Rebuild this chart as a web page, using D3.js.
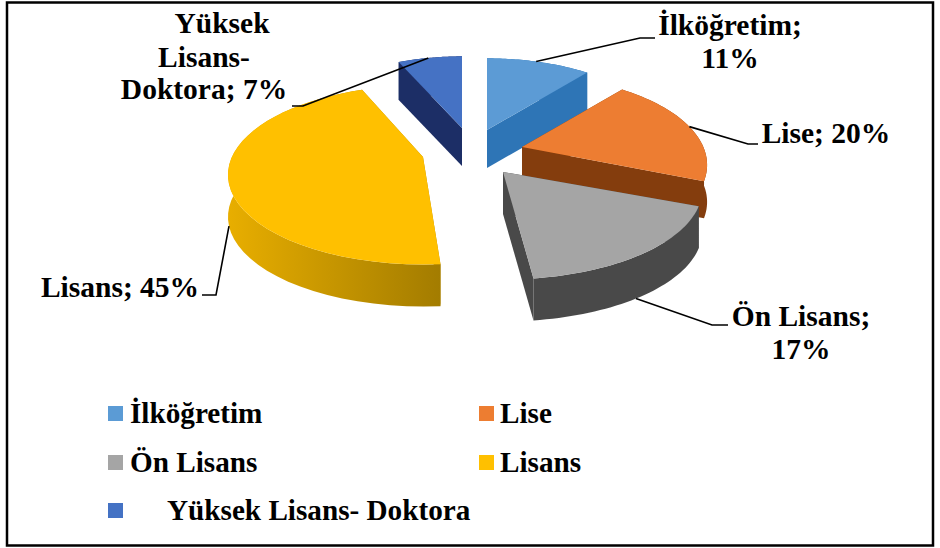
<!DOCTYPE html>
<meta charset="utf-8">
<style>
html, body { margin: 0; background: #fff; }
svg { display: block; }
text { font-family: 'Liberation Serif', serif; font-weight: bold; font-size: 29.5px; fill: #000; }
.legend text { font-size: 29.2px; }
</style>
<svg width="940" height="548"></svg>
<script src="https://d3js.org/d3.v7.min.js"></script>
<script>
var categories = ["İlköğretim", "Lise", "Ön Lisans", "Lisans", "Yüksek Lisans- Doktora"];
var shares = [11, 20, 17, 45, 7];
var topColors = ["#5b9bd5", "#ed7d31", "#a5a5a5", "#ffc000", "#4472c4"];
var sideColors = ["#2e75b6", "#843c0c", "#4a4a4a", "#b58a08", "#1f2f66"];
var labelLines = [["İlköğretim;", "11%"], ["Lise; 20%"], ["Ön Lisans;", "17%"], ["Lisans; 45%"], ["Yüksek", "Lisans-", "Doktora; 7%"]];

// layout of the exploded slices, index follows categories
var apex = [[487, 130], [522, 147], [503, 172], [423, 157], [462, 128]];
var depth = [38, 37, 42, 42, 38];
var widthScale = [0.93, 0.93, 1, 0.98, 0.9];
var turn = [0, 0, 0, 3, 0]; // degrees, the yellow slice sits a bit rotated in the picture
var drawOrder = [0, 4, 1, 3, 2];
var rx = 195, ry = 86, persp = 0.2;

var labelPos = [
	[[730, 35], [730, 68]],
	[[826, 143]],
	[[801, 326], [801, 359]],
	[[120, 297]],
	[[222, 33], [204, 67], [204, 99]]
];
// elbow and end of each leader line, first point comes from the slice
var leaderAngle = [0.48, 0.49, 0.55, 0.48, 0.48];
var leaders = [
	[[640, 38], [655, 38]],
	[[748, 144], [758, 144]],
	[[712, 325], [728, 325]],
	[[216, 295], [202, 295]],
	[[303, 106], [292, 106]]
];
var legendPos = [
	{ box: [108, 406], text: [130, 423] },
	{ box: [479, 406], text: [500, 423] },
	{ box: [108, 455], text: [130, 472] },
	{ box: [479, 455], text: [500, 472] },
	{ box: [108, 503], text: [167, 520] }
];

var svg = d3.select("svg");
var defs = svg.append("defs");
defs.append("filter").attr("id", "soft")
	.append("feGaussianBlur").attr("stdDeviation", 0.7);

var rimGrad = defs.append("linearGradient").attr("id", "rim3").attr("x1", 0).attr("x2", 1).attr("y1", 0).attr("y2", 0);
rimGrad.append("stop").attr("offset", 0).attr("stop-color", "#e8ae05");
rimGrad.append("stop").attr("offset", 1).attr("stop-color", "#a37c06");

svg.append("rect")
	.attr("x", 7).attr("y", 2.5)
	.attr("width", 926).attr("height", 543)
	.attr("fill", "#fff").attr("stroke", "#000").attr("stroke-width", 2.5);

var pie = d3.pie().sort(null).value(function(d) { return d; });
var arcs = pie(shares);

// tilted disc with a bit of perspective, angle clockwise from the top
function project(i, a) {
	var u = Math.sin(a), v = -Math.cos(a);
	var k = 1 / (1 - v * persp);
	return [apex[i][0] + u * rx * widthScale[i] * k, apex[i][1] + v * ry * k];
}

function rimPoints(i) {
	var off = turn[i] * Math.PI / 180;
	var a0 = arcs[i].startAngle + off, a1 = arcs[i].endAngle + off;
	return d3.range(0, 41).map(function(t) { return project(i, a0 + (a1 - a0) * t / 40); });
}

var line = d3.line();

var pieG = svg.append("g").attr("filter", "url(#soft)");

drawOrder.forEach(function(i) {
	var rim = rimPoints(i);
	var d = depth[i];
	var g = pieG.append("g");
	var side = i === 3 ? "url(#rim3)" : sideColors[i];
	var first = rim[0], last = rim[rim.length - 1];

	function down(p) { return [p[0], p[1] + d]; }

	g.append("path")
		.attr("d", line([apex[i], first, down(first), down(apex[i])]) + "Z")
		.attr("fill", sideColors[i]);
	g.append("path")
		.attr("d", line([apex[i], last, down(last), down(apex[i])]) + "Z")
		.attr("fill", sideColors[i]);
	g.append("path")
		.attr("d", line(rim.concat(rim.map(down).reverse())) + "Z")
		.attr("fill", side);
	g.append("path")
		.attr("d", line([apex[i]].concat(rim)) + "Z")
		.attr("fill", topColors[i]);
});

// leader lines
categories.forEach(function(c, i) {
	var rim = rimPoints(i);
	var start = rim[Math.round(leaderAngle[i] * 40)].slice();
	if (i === 3 || i === 2) start[1] += depth[i];
	svg.append("path")
		.attr("d", line([start].concat(leaders[i])))
		.attr("fill", "none")
		.attr("stroke", "#000")
		.attr("stroke-width", 1.6);
});

labelLines.forEach(function(lines, i) {
	lines.forEach(function(t, j) {
		svg.append("text")
			.attr("x", labelPos[i][j][0])
			.attr("y", labelPos[i][j][1])
			.attr("text-anchor", "middle")
			.text(t);
	});
});

var legend = svg.append("g").attr("class", "legend");
categories.forEach(function(c, i) {
	legend.append("rect")
		.attr("x", legendPos[i].box[0]).attr("y", legendPos[i].box[1])
		.attr("width", 15).attr("height", 15)
		.attr("fill", topColors[i]);
	legend.append("text")
		.attr("x", legendPos[i].text[0]).attr("y", legendPos[i].text[1])
		.text(c);
});
</script>
